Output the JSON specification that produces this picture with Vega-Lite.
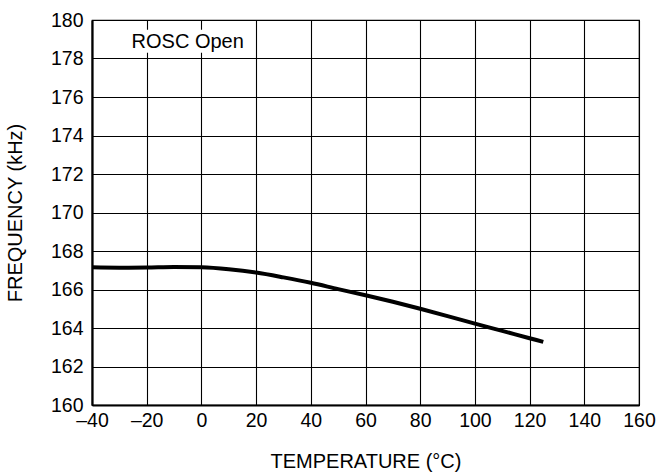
{
  "$schema": "https://vega.github.io/schema/vega-lite/v6.json",
  "width": 547,
  "height": 385,
  "autosize": {"type": "none"},
  "padding": {"left": 92, "top": 20, "right": 19, "bottom": 68},
  "background": "white",
  "config": {
    "font": "Liberation Sans",
    "view": {"stroke": "black", "strokeWidth": 1.2},
    "axis": {
      "labelFont": "Liberation Sans",
      "titleFont": "Liberation Sans",
      "labelFontSize": 19.5,
      "titleFontSize": 20,
      "titleFontWeight": "normal",
      "labelColor": "black",
      "titleColor": "black",
      "grid": true,
      "gridColor": "black",
      "gridOpacity": 1,
      "gridWidth": 1.1,
      "ticks": false,
      "domainColor": "black",
      "domainWidth": 2.2,
      "labelOverlap": false
    }
  },
  "layer": [
    {
      "data": {
        "values": [
          {"temp": -40, "freq": 167.15},
          {"temp": -30, "freq": 167.13},
          {"temp": -20, "freq": 167.14},
          {"temp": -10, "freq": 167.17},
          {"temp": 0, "freq": 167.15},
          {"temp": 10, "freq": 167.05},
          {"temp": 20, "freq": 166.88},
          {"temp": 30, "freq": 166.63},
          {"temp": 40, "freq": 166.35},
          {"temp": 50, "freq": 166.02},
          {"temp": 60, "freq": 165.7},
          {"temp": 70, "freq": 165.36},
          {"temp": 80, "freq": 165.0},
          {"temp": 90, "freq": 164.62},
          {"temp": 100, "freq": 164.23},
          {"temp": 110, "freq": 163.85},
          {"temp": 120, "freq": 163.47},
          {"temp": 125, "freq": 163.28}
        ]
      },
      "mark": {"type": "line", "color": "black", "strokeWidth": 4, "interpolate": "monotone", "strokeCap": "butt"},
      "encoding": {
        "x": {
          "field": "temp", "type": "quantitative",
          "scale": {"domain": [-40, 160], "nice": false},
          "axis": {"values": [-40, -20, 0, 20, 40, 60, 80, 100, 120, 140, 160], "title": "TEMPERATURE (°C)", "labelPadding": 6, "titlePadding": 22, "labelExpr": "replace(datum.label, '−', '–')", "labelFlush": false}
        },
        "y": {
          "field": "freq", "type": "quantitative",
          "scale": {"domain": [160, 180], "nice": false, "zero": false},
          "axis": {"values": [160, 162, 164, 166, 168, 170, 172, 174, 176, 178, 180], "title": "FREQUENCY (kHz)", "labelPadding": 9, "titlePadding": 25, "labelFlush": false}
        }
      }
    },
    {
      "data": {"values": [{"label": "ROSC Open"}]},
      "mark": {"type": "rect", "fill": "white", "stroke": null},
      "encoding": {
        "x": {"datum": -27, "type": "quantitative", "axis": {"values": [-40, -20, 0, 20, 40, 60, 80, 100, 120, 140, 160], "title": "TEMPERATURE (°C)", "labelPadding": 6, "titlePadding": 22, "labelExpr": "replace(datum.label, '−', '–')", "labelFlush": false}},
        "x2": {"datum": 18},
        "y": {"datum": 178.3, "type": "quantitative", "axis": {"values": [160, 162, 164, 166, 168, 170, 172, 174, 176, 178, 180], "title": "FREQUENCY (kHz)", "labelPadding": 9, "titlePadding": 25, "labelFlush": false}},
        "y2": {"datum": 179.5}
      }
    },
    {
      "data": {"values": [{"label": "ROSC Open"}]},
      "mark": {"type": "text", "fontSize": 20, "font": "Liberation Sans", "fill": "black", "fontWeight": "normal", "align": "center", "baseline": "middle"},
      "encoding": {
        "text": {"field": "label"},
        "x": {"datum": -5, "type": "quantitative", "axis": {"values": [-40, -20, 0, 20, 40, 60, 80, 100, 120, 140, 160], "title": "TEMPERATURE (°C)", "labelPadding": 6, "titlePadding": 22, "labelExpr": "replace(datum.label, '−', '–')", "labelFlush": false}},
        "y": {"datum": 178.88, "type": "quantitative", "axis": {"values": [160, 162, 164, 166, 168, 170, 172, 174, 176, 178, 180], "title": "FREQUENCY (kHz)", "labelPadding": 9, "titlePadding": 25, "labelFlush": false}}
      }
    }
  ]
}
